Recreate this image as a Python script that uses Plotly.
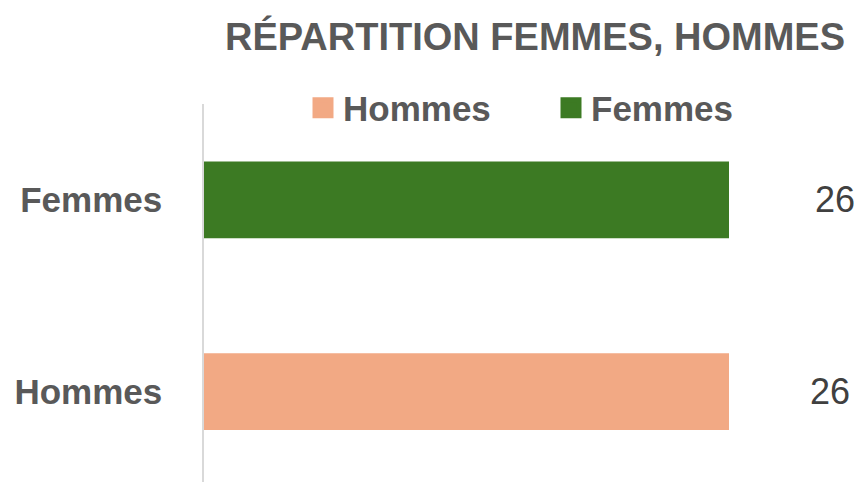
import plotly.graph_objects as go

categories = ["Hommes", "Femmes"]
values = [26, 26]
colors = ["#F2A984", "#3C7A23"]
title_text = "RÉPARTITION FEMMES, HOMMES"
label_shifts = [101, 106]

W, H = 854, 474  # page body has an 8px margin

fig = go.Figure()
for cat, val, col in zip(categories, values, colors):
    fig.add_trace(go.Bar(
        x=[val], y=[cat], orientation="h", marker=dict(color=col, line=dict(width=0)),
        width=0.4, showlegend=False, hoverinfo="skip",
    ))
for cat, col in zip(categories, colors):
    fig.add_trace(go.Scatter(
        x=[None], y=[None], mode="markers", name=cat,
        marker=dict(symbol="square", size=16, color=col, line=dict(color=col, width=5)),
        showlegend=True,
    ))

for cat, val, sh in zip(categories, values, label_shifts):
    fig.add_annotation(x=val, y=cat, text=str(val), showarrow=False, xanchor="center",
                       xshift=sh, font=dict(family="Liberation Sans, Arial", size=36, color="#404040"))

fig.update_layout(
    width=W, height=H,
    margin=dict(l=196, r=0, t=95.5, b=0, autoexpand=False),
    paper_bgcolor="white", plot_bgcolor="white",
    barmode="overlay",
    title=dict(text=title_text, x=837 / W, xanchor="right", xref="container",
               y=1 - 29 / H, yanchor="middle", yref="container",
               font=dict(family="Liberation Sans, Arial", size=38, color="#595959", weight="bold")),
    legend=dict(orientation="h", xref="container", yref="container", x=295 / W, xanchor="left",
                y=1 - 100 / H, yanchor="middle", entrywidth=203,
                font=dict(family="Liberation Sans, Arial", size=35, color="#595959", weight="bold"),
                bgcolor="rgba(0,0,0,0)"),
    xaxis=dict(range=[0, 26 * 658 / 525], visible=False, fixedrange=True),
    yaxis=dict(categoryorder="array", categoryarray=categories, range=[-0.471, 1.5],
               showline=True, linecolor="#D9D9D9", linewidth=1.5, showgrid=False, zeroline=False,
               ticks="", ticklabelstandoff=33, automargin=False,
               tickfont=dict(family="Liberation Sans, Arial", size=35, color="#595959", weight="bold")),
)
fig.write_html("out.html")
